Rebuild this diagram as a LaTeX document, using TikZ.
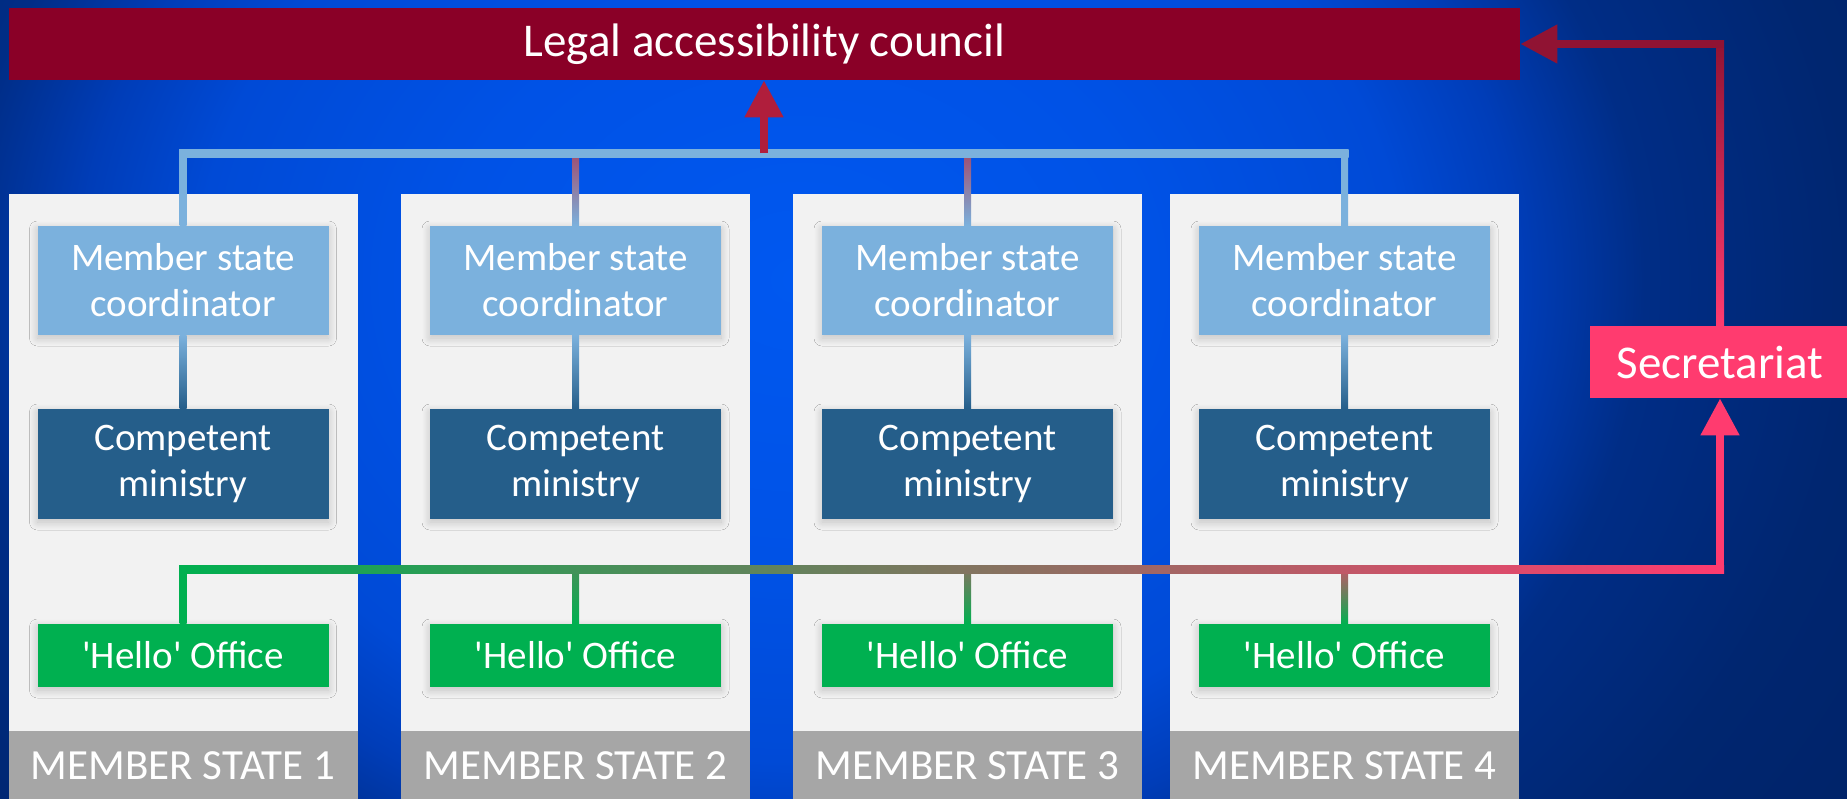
\documentclass[tikz,border=0pt]{standalone}
\usepackage{fontspec}
\setmainfont{Carlito}
\usetikzlibrary{arrows.meta, calc, positioning, shadows.blur}

\definecolor{bgdark}{HTML}{001E5C}
\definecolor{bgedge}{HTML}{002670}
\definecolor{bgmid}{HTML}{0058F0}
\definecolor{bgmid2}{HTML}{0052E6}
\definecolor{bgmid3}{HTML}{004AD6}
\definecolor{bgmid4}{HTML}{003DB8}
\definecolor{bgmid5}{HTML}{002D86}
\definecolor{lacred}{HTML}{8A0027}
\definecolor{tred}{HTML}{B01E3C}
\definecolor{dred}{HTML}{901333}
\definecolor{cblue}{HTML}{7BB1DD}
\definecolor{mblue}{HTML}{255E8A}
\definecolor{hgreen}{HTML}{00B050}
\definecolor{spink}{HTML}{FF3B6F}
\definecolor{panelgray}{HTML}{F2F2F2}
\definecolor{labelgray}{HTML}{A6A6A6}

\pgfdeclareradialshading{bgglow}{\pgfpoint{0bp}{0bp}}{color(0bp)=(bgmid); color(5.5bp)=(bgmid2);
  color(9.4bp)=(bgmid3); color(11.25bp)=(bgmid4); color(13.2bp)=(bgmid5); color(16.5bp)=(bgedge);
  color(25bp)=(bgdark); color(50bp)=(bgdark)}

\begin{document}
\begin{tikzpicture}[x=0.5pt, y=-0.5pt,
    unit/.style={rectangle, inner sep=0pt, text=white, align=center, minimum width=145.5pt,
      font=\fontsize{19.5pt}{23pt}\selectfont,
      blur shadow={shadow xshift=0pt, shadow yshift=-1.5pt, shadow blur radius=4pt,
        shadow blur extra rounding=0pt, shadow blur steps=10, shadow opacity=20}},
    head/.style={rectangle, inner sep=0pt, text=white, minimum height=36pt, font=\fontsize{23.5pt}{28pt}\selectfont},
    link/.style={line width=4pt, -{Triangle[length=18.5pt, width=18.5pt]}}]
    % background
    \useasboundingbox (0,0) rectangle (1847,798);
    \clip (0,0) rectangle (1847,798);
    \fill[bgdark] (0,0) rectangle (1847,798);
    \shade[shading=bgglow] (800,280) ellipse [x radius=800pt, y radius=640pt];

    \node[head, fill=lacred, minimum width=755.5pt] (LAC) at (764.5,44) {Legal accessibility council};
    \node[head, fill=spink, minimum width=130pt] (SEC) at (1720,362) {Secretariat};
    \coordinate (TB) at (764,153);
    \coordinate (GB) at (1720,569);
    \coordinate (RC) at (1720,44);

    % member states
    \foreach \i/\cx/\tc/\hc in {1/183/cblue/hgreen, 2/575.5/{tred!68!cblue}/{spink!26!hgreen},
        3/967.5/{tred!68!cblue}/{spink!51!hgreen}, 4/1344.5/cblue/{spink!75!hgreen}} {
      \node[fill=panelgray, inner sep=0pt, minimum width=174.5pt, minimum height=268.5pt] (MS\i) at (\cx,462.5) {};
      \node[fill=labelgray, text=white, inner sep=0pt, minimum width=174.5pt, minimum height=35pt,
        font=\fontsize{21.5pt}{26pt}\selectfont] (L\i) at (\cx,766) {MEMBER STATE \i};
      \node[unit, fill=cblue, minimum height=54.5pt] (C\i) at (\cx,280.5) {Member state\\coordinator};
      \node[unit, fill=mblue, minimum height=55pt] (M\i) at (\cx,464) {Competent\\ministry};
      \node[unit, fill=hgreen, minimum height=31.5pt] (H\i) at (\cx,655.5) {\textquotesingle Hello\textquotesingle{} Office};
      \shade[top color=\tc, bottom color=cblue] ($(C\i.north |- TB)+(-3.5,0)$) rectangle ($(C\i.north)+(3.5,0)$);
      \shade[top color=cblue, bottom color=mblue] ($(C\i.south)+(-3.5,0)$) rectangle ($(M\i.north)+(3.5,0)$);
      \shade[top color=\hc, bottom color=hgreen] ($(H\i.north |- GB)+(-3.5,0)$) rectangle ($(H\i.north)+(3.5,0)$);
    }

    % buses and arrows
    \shade[left color=cblue, middle color=tred, right color=cblue] ($(C1.north |- TB)+(-4,-4)$) rectangle ($(C4.north |- TB)+(4,4)$);
    \draw[link, tred] (TB) -- (TB |- LAC.south);
    \shade[left color=hgreen, right color=spink] ($(H1.north |- GB)+(-4,-4)$) rectangle ($(GB)+(4,4)$);
    \draw[link, spink] ($(GB)+(0,4)$) -- (SEC.south);
    \shade[top color=dred, bottom color=spink] ($(RC)+(-4,-4)$) rectangle ($(SEC.north)+(4,0)$);
    \draw[link, dred] ($(RC)+(4,0)$) -- (LAC.east);
\end{tikzpicture}
\end{document}
